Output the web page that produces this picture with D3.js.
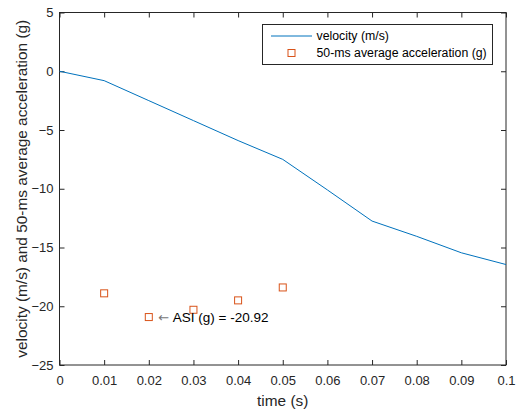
<!DOCTYPE html>
<html>
<head>
<meta charset="utf-8">
<script src="https://cdn.jsdelivr.net/npm/d3@7"></script>
<style>
  body { margin: 0; background: #fff; }
  svg { display: block; font-family: Arial, "Liberation Sans", sans-serif; }
</style>
</head>
<body>
<div id="chart"></div>
<script>
// velocity trace (m/s)
const timeVel = [0, 0.01, 0.02, 0.03, 0.04, 0.05, 0.06, 0.07, 0.08, 0.09, 0.1];
const velocity = [0, -0.8, -2.5, -4.2, -5.9, -7.5, -10.1, -12.75, -14.05, -15.45, -16.45];

// 50-ms average acceleration (g)
const timeAcc = [0.01, 0.02, 0.03, 0.04, 0.05];
const accel = [-18.9, -20.92, -20.3, -19.5, -18.4];

const xTicks = [0, 0.01, 0.02, 0.03, 0.04, 0.05, 0.06, 0.07, 0.08, 0.09, 0.1];
const yTicks = [5, 0, -5, -10, -15, -20, -25];

const W = 518, H = 411;
const margin = { top: 12.5, right: 12, bottom: 46, left: 59.5 };
const width = W - margin.left - margin.right;
const height = H - margin.top - margin.bottom;

const svg = d3.select("#chart").append("svg")
    .attr("width", W)
    .attr("height", H);

const g = svg.append("g")
    .attr("transform", `translate(${margin.left},${margin.top})`);

const x = d3.scaleLinear().domain([0, 0.1]).range([0, width]);
const y = d3.scaleLinear().domain([-25, 5]).range([height, 0]);

const axisColor = "#262626";

// axes, ticks inward on all four sides
function styleAxis(sel) {
    sel.select(".domain").remove();
    sel.selectAll(".tick line").attr("stroke", axisColor);
    sel.selectAll(".tick text")
        .attr("fill", axisColor)
        .attr("font-family", null)
        .attr("font-size", null)
        .style("font-size", "13px");
}

const fmt = d => d === 0 ? "0" : String(+d.toFixed(2));

g.append("g")
    .attr("transform", `translate(0,${height})`)
    .call(d3.axisBottom(x).tickValues(xTicks).tickSize(-5).tickPadding(10.5).tickFormat(fmt))
    .call(styleAxis);

g.append("g")
    .call(d3.axisTop(x).tickValues(xTicks).tickSize(-5).tickFormat(""))
    .call(styleAxis);

g.append("g")
    .call(d3.axisLeft(y).tickValues(yTicks).tickSize(-5).tickPadding(6).tickFormat(d3.format("d")))
    .call(styleAxis);

g.append("g")
    .attr("transform", `translate(${width},0)`)
    .call(d3.axisRight(y).tickValues(yTicks).tickSize(-5).tickFormat(""))
    .call(styleAxis);

// box
g.append("rect")
    .attr("width", width)
    .attr("height", height)
    .attr("fill", "none")
    .attr("stroke", axisColor)
    .attr("stroke-width", 1);

// velocity line
g.append("path")
    .datum(timeVel.map((t, i) => [t, velocity[i]]))
    .attr("fill", "none")
    .attr("stroke", "#0072BD")
    .attr("stroke-width", 1)
    .attr("d", d3.line().x(d => x(d[0])).y(d => y(d[1])));

// acceleration markers
const sq = 7;
g.selectAll(".acc")
    .data(timeAcc.map((t, i) => [t, accel[i]]))
    .enter().append("rect")
    .attr("class", "acc")
    .attr("x", d => x(d[0]) - sq / 2)
    .attr("y", d => y(d[1]) - sq / 2)
    .attr("width", sq)
    .attr("height", sq)
    .attr("fill", "none")
    .attr("stroke", "#D95319")
    .attr("stroke-width", 1);

// ASI annotation
const asiIdx = accel.indexOf(d3.min(accel));
const ax = x(timeAcc[asiIdx]), ay = y(accel[asiIdx]);
g.append("text")
    .attr("x", ax + 9.5)
    .attr("y", ay)
    .attr("dy", "0.38em")
    .style("font-family", "'DejaVu Sans', sans-serif")
    .style("font-size", "13px")
    .attr("fill", "#777")
    .text("\u2190");
g.append("text")
    .attr("x", ax + 24)
    .attr("y", ay)
    .attr("dy", "0.35em")
    .style("font-size", "13.5px")
    .attr("fill", "#000")
    .text(`ASI (g) = ${accel[asiIdx].toFixed(2)}`);

// legend
const leg = svg.append("g").attr("transform", "translate(262.5,24.5)");
leg.append("rect")
    .attr("width", 230)
    .attr("height", 40)
    .attr("fill", "#fff")
    .attr("stroke", axisColor)
    .attr("stroke-width", 1);
leg.append("line")
    .attr("x1", 8.5).attr("x2", 49.5)
    .attr("y1", 11.5).attr("y2", 11.5)
    .attr("stroke", "#0072BD");
leg.append("rect")
    .attr("x", 29 - sq / 2).attr("y", 28.5 - sq / 2)
    .attr("width", sq).attr("height", sq)
    .attr("fill", "none")
    .attr("stroke", "#D95319");
const legendLabels = ["velocity (m/s)", "50-ms average acceleration (g)"];
leg.selectAll(".lt")
    .data(legendLabels)
    .enter().append("text")
    .attr("x", 54)
    .attr("y", (d, i) => 11.5 + i * 17)
    .attr("dy", "0.35em")
    .style("font-size", "12.3px")
    .attr("fill", "#000")
    .text(d => d);

// axis labels
svg.append("text")
    .attr("x", margin.left + width / 2)
    .attr("y", 406)
    .attr("text-anchor", "middle")
    .style("font-size", "15.4px")
    .attr("fill", axisColor)
    .text("time (s)");

svg.append("text")
    .attr("transform", `translate(27,${margin.top + height / 2}) rotate(-90)`)
    .attr("text-anchor", "middle")
    .style("font-size", "15.4px")
    .attr("fill", axisColor)
    .text("velocity (m/s) and 50-ms average acceleration (g)");
</script>
</body>
</html>
